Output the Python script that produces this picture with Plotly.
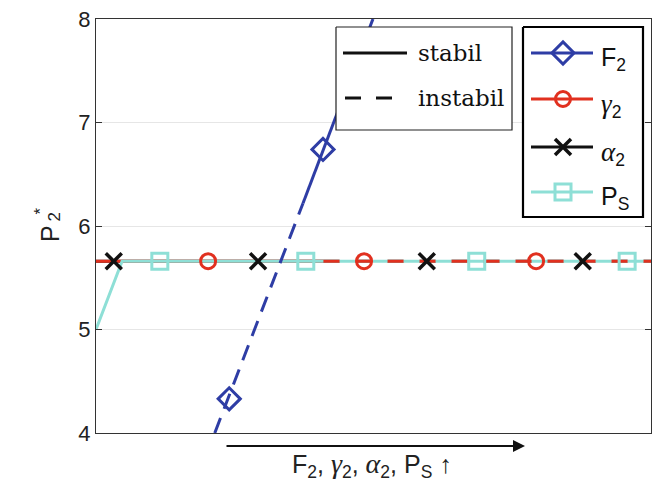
import plotly.graph_objects as go

# ---------------- data ----------------
level = 5.66          # horizontal equilibrium branch
x_switch = 41.0       # stable -> unstable switch along horizontal branch

# F2 branch
F2_dash_x = [21.4, 37.3]
F2_dash_y = [4.0, 6.22]
F2_solid_x = [37.3, 49.9]
F2_solid_y = [6.22, 8.0]
F2_mark_x = [24.0, 40.9]
F2_mark_y = [4.33, 6.74]

# gamma2 branch
g2_solid_x = [0.0, x_switch]
g2_solid_y = [level, level]
g2_dash_x = [x_switch, 100.0]
g2_dash_y = [level, level]
g2_mark_x = [20.2, 48.3, 79.3]

# alpha2 branch
a2_solid_x = [0.0, x_switch]
a2_solid_y = [level, level]
a2_dash_x = [x_switch, 100.0]
a2_dash_y = [level, level]
a2_mark_x = [3.2, 29.2, 59.6, 87.7]

# P_S branch
ps_solid_x = [0.0, 4.7, x_switch]
ps_solid_y = [5.0, level, level]
ps_dash_x = [x_switch, 100.0]
ps_dash_y = [level, level]
ps_mark_x = [11.5, 37.8, 68.6, 95.7]

yticks = [4, 5, 6, 7, 8]

series_names = ["F<sub>2</sub>", "γ", "α", "P<sub>S</sub>"]
stab_names = ["stabil", "instabil"]

# ---------------- style ----------------
BLUE = "#2E3DA5"
RED = "#E1301F"
BLACK = "#111111"
CYAN = "#8EDFD6"
LW = 3
SANS = "Liberation Sans"
SERIF = "DejaVu Serif"
GREEK = "Liberation Serif"

L, R, T, B = 96, 3, 19, 51
W, H = 654, 484
PW, PH = W - L - R, H - T - B

MK = {
    "F2": dict(symbol="diamond-open", size=17, color=BLUE, line=dict(width=3, color=BLUE)),
    "g2": dict(symbol="circle-open", size=15, color=RED, line=dict(width=3, color=RED)),
    "a2": dict(symbol="x-thin-open", size=16, color=BLACK, line=dict(width=3.5, color=BLACK)),
    "ps": dict(symbol="square-open", size=16, color=CYAN, line=dict(width=3, color=CYAN)),
}


def px_x(px):
    return (px - L) / PW


def px_y(py):
    return (T + PH - py) / PH


fig = go.Figure()


def line(x, y, color, dash=None, xa="x", ya="y", width=LW):
    fig.add_trace(go.Scatter(x=x, y=y, mode="lines", xaxis=xa, yaxis=ya,
                             line=dict(color=color, width=width, dash=dash),
                             showlegend=False, hoverinfo="skip"))


# horizontal branches: the unstable (dashed) red and cyan branches interleave,
# so the cyan dashes fill the gaps of the red dashes
line(a2_solid_x, a2_solid_y, BLACK)
line(a2_dash_x, a2_dash_y, BLACK, "16px,16px")
line(g2_solid_x, g2_solid_y, RED)
line(ps_dash_x, ps_dash_y, CYAN)                 # cyan dashes (gaps covered by red dashes)
line(ps_solid_x, ps_solid_y, CYAN)
line(g2_dash_x, g2_dash_y, RED, "16px,16px")

# F2 branch
line(F2_dash_x, F2_dash_y, BLUE, "16px,10px")
line(F2_solid_x, F2_solid_y, BLUE)

# markers
fig.add_trace(go.Scatter(x=F2_mark_x, y=F2_mark_y, mode="markers", marker=MK["F2"],
                         showlegend=False))
fig.add_trace(go.Scatter(x=g2_mark_x, y=[level] * len(g2_mark_x), mode="markers",
                         marker=MK["g2"], showlegend=False))
fig.add_trace(go.Scatter(x=ps_mark_x, y=[level] * len(ps_mark_x), mode="markers",
                         marker=MK["ps"], showlegend=False))
fig.add_trace(go.Scatter(x=a2_mark_x, y=[level] * len(a2_mark_x), mode="markers",
                         marker=MK["a2"], showlegend=False))


# ---------------- legends (overlay axes in pixel units) ----------------
def box(x0, x1, y0, y1, border, bw):
    fig.add_trace(go.Scatter(x=[x0, x1, x1, x0, x0], y=[y0, y0, y1, y1, y0],
                             mode="lines", fill="toself", fillcolor="white",
                             line=dict(color=border, width=bw), xaxis="x2", yaxis="y2",
                             showlegend=False, hoverinfo="skip"))


# stability legend
box(336, 512, 27, 130, "#222222", 1.2)
line([343, 407], [53, 53], BLACK, None, "x2", "y2")
line([345, 407], [98, 98], BLACK, "16px,15px", "x2", "y2")
for name, yy in zip(stab_names, [53, 98]):
    fig.add_annotation(text=name, xref="x2", yref="y2", x=416, y=yy, xanchor="left",
                       yanchor="middle", showarrow=False,
                       font=dict(size=23, family=SERIF, color="#111111"))

# series legend
box(523, 643, 27, 217, "black", 2.2)
leg_rows = [53, 99, 147, 192]
leg_cols = [BLUE, RED, BLACK, CYAN]
leg_keys = ["F2", "g2", "a2", "ps"]
gk = "<span style=\"font-family:'%s';font-size:%dpx\"><i>%s</i></span><sub>2</sub>"
for name, yy, col, key in zip(series_names, leg_rows, leg_cols, leg_keys):
    line([531, 593], [yy, yy], col, None, "x2", "y2")
    fig.add_trace(go.Scatter(x=[563], y=[yy], mode="markers", marker=MK[key],
                             xaxis="x2", yaxis="y2", showlegend=False, hoverinfo="skip"))
    txt = name if "<sub>" in name else gk % (GREEK, 27, name)
    fig.add_annotation(text=txt, xref="x2", yref="y2", x=599, y=yy + 6, xanchor="left",
                       yanchor="middle", showarrow=False,
                       font=dict(size=25, family=SANS, color="#111111"))

fig.update_layout(
    width=W, height=H,
    margin=dict(l=L, r=R, t=T, b=B),
    paper_bgcolor="white", plot_bgcolor="white",
    showlegend=False,
    font=dict(family=SANS, size=22, color="#222222"),
    xaxis=dict(range=[0, 100], showticklabels=False, ticks="", showgrid=False,
               zeroline=False, showline=True, linecolor="#333333", linewidth=1.3, mirror=True),
    yaxis=dict(range=[4, 8], tickvals=yticks, ticks="inside", ticklen=6, tickcolor="#333333",
               showgrid=True, gridcolor="#E6E6E6", gridwidth=1, zeroline=False,
               tickfont=dict(size=22, family=SANS, color="#222222"),
               showline=True, linecolor="#333333", linewidth=1.3, mirror="ticks"),
    xaxis2=dict(range=[L, W - R], overlaying="x", visible=False, fixedrange=True),
    yaxis2=dict(range=[T + PH, T], overlaying="y", visible=False, fixedrange=True),
)

# y-axis title P*_2 (stacked super/subscript)
fig.add_annotation(text="P", xref="paper", yref="paper", x=px_x(34), y=px_y(234),
                   showarrow=False, textangle=-90, font=dict(size=25, family=SANS, color="#222222"))
fig.add_annotation(text="*", xref="paper", yref="paper", x=px_x(29), y=px_y(211),
                   showarrow=False, textangle=-90, font=dict(size=17, family=SANS, color="#222222"))
fig.add_annotation(text="2", xref="paper", yref="paper", x=px_x(42), y=px_y(217),
                   showarrow=False, textangle=-90, font=dict(size=17, family=SANS, color="#222222"))

# bottom arrow
fig.add_annotation(x=px_x(525), y=px_y(446), ax=-303, ay=0,
                   xref="paper", yref="paper", axref="pixel", ayref="pixel",
                   text=" ", showarrow=True, arrowhead=2, arrowsize=1.2, arrowwidth=2,
                   arrowcolor="#111111")
fig.add_annotation(
    text="F<sub>2</sub>, " + (gk % (GREEK, 28, "γ")) + ", " + (gk % (GREEK, 28, "α"))
         + ", P<sub>S</sub> ↑",
    xref="paper", yref="paper", x=px_x(372), y=px_y(484), yanchor="bottom",
    showarrow=False, font=dict(size=25, family=SANS, color="#222222"))

fig.write_html("out.html")
